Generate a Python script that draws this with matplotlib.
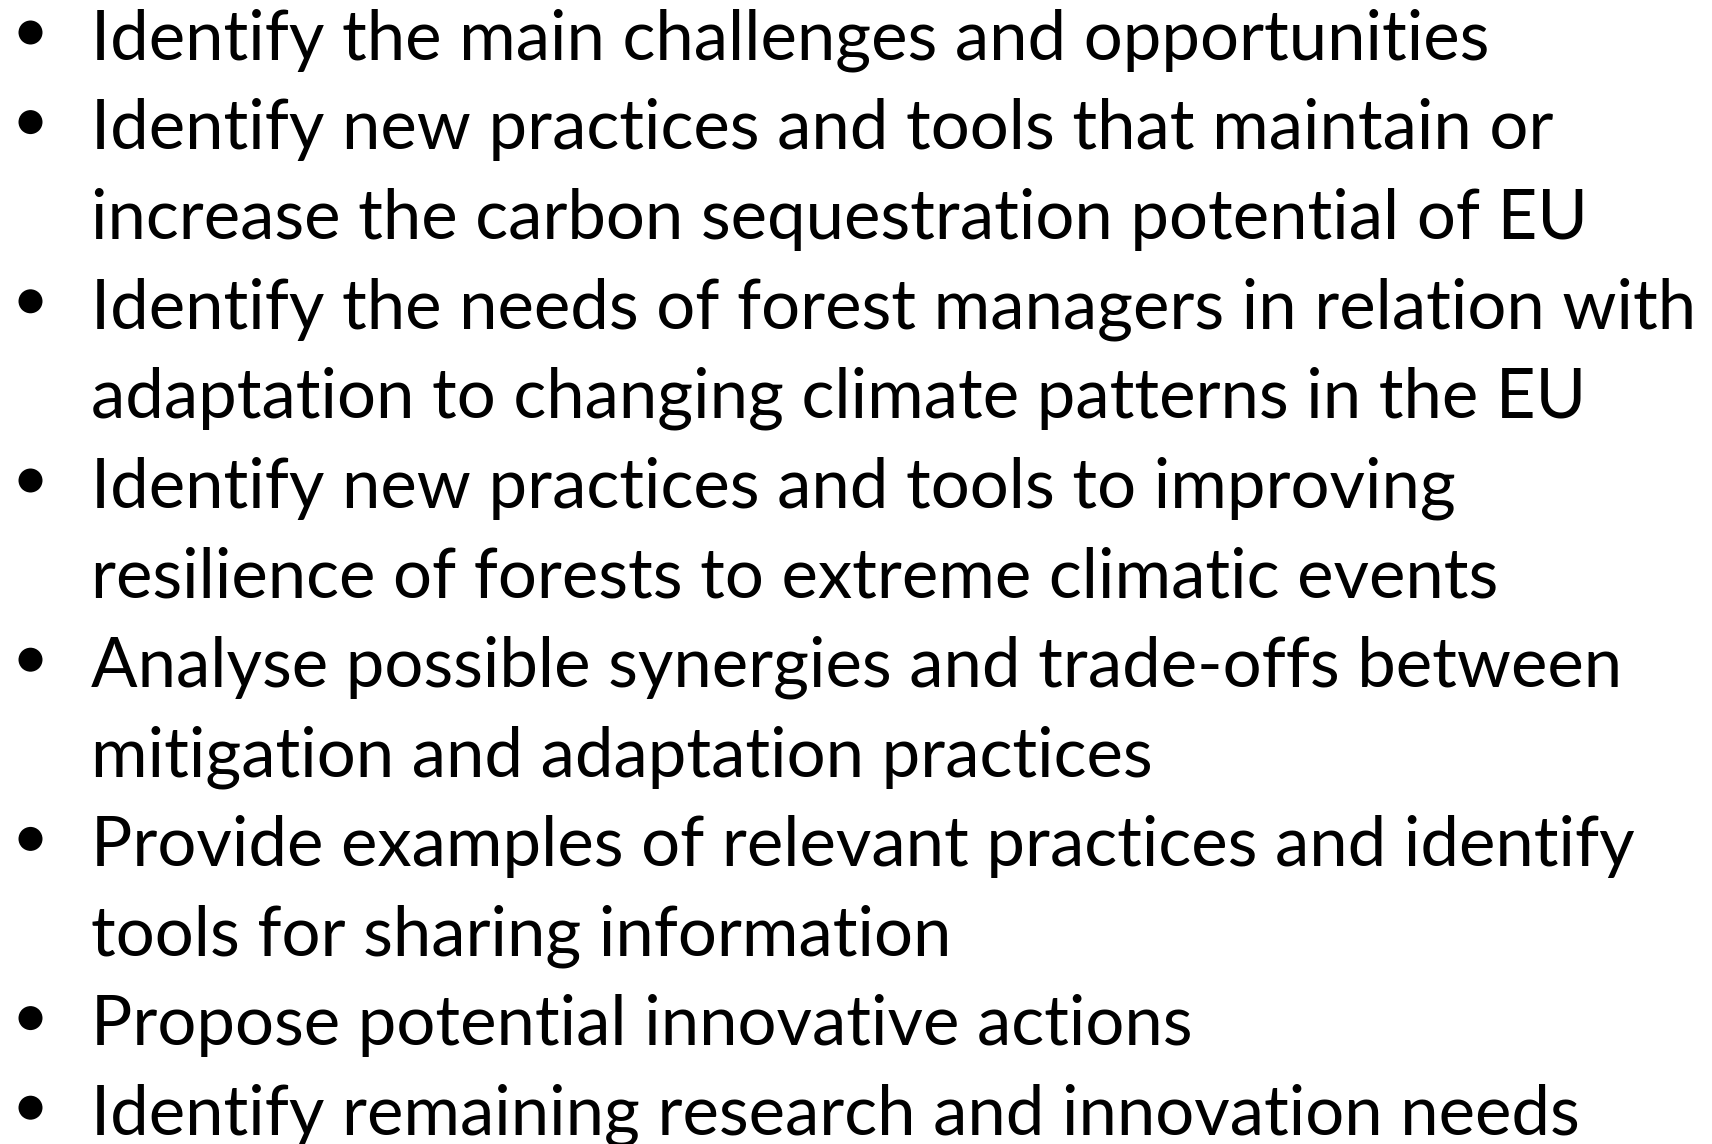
import matplotlib
matplotlib.use("Agg")
import matplotlib.pyplot as plt
from matplotlib.patches import Ellipse

# Bullet items (each sub-list = wrapped lines of one bullet)
items = [
    ["Identify the main challenges and opportunities"],
    ["Identify new practices and tools that maintain or",
     "increase the carbon sequestration potential of EU"],
    ["Identify the needs of forest managers in relation with",
     "adaptation to changing climate patterns in the EU"],
    ["Identify new practices and tools to improving",
     "resilience of forests to extreme climatic events"],
    ["Analyse possible synergies and trade-offs between",
     "mitigation and adaptation practices"],
    ["Provide examples of relevant practices and identify",
     "tools for sharing information"],
    ["Propose potential innovative actions"],
    ["Identify remaining research and innovation needs"],
]

W, H, DPI = 1712, 1144, 100
fig = plt.figure(figsize=(W / DPI, H / DPI), dpi=DPI)
fig.patch.set_facecolor("white")

FONT = ["Lato", "DejaVu Sans"]
text_left = 91          # px
first_baseline = 59.5   # px from top
line_step = 89.6        # px
target_width = 1605     # px width of the widest line
bullet_d = 24           # px diameter
bullet_x = 30.5         # px
bullet_up = 27          # px above baseline

# calibrate font size on the widest line
renderer = fig.canvas.get_renderer()
probe = fig.text(0, 0, items[2][0], fontsize=50, family=FONT)
w = probe.get_window_extent(renderer).width
probe.remove()
fs = 50 * target_width / w

line = 0
for item in items:
    for k, txt in enumerate(item):
        yb = first_baseline + line * line_step
        fig.text(text_left / W, 1 - yb / H, txt, fontsize=fs, family=FONT,
                 color="black", ha="left", va="baseline")
        if k == 0:
            cy = yb - bullet_up
            fig.add_artist(Ellipse((bullet_x / W, 1 - cy / H),
                                   width=bullet_d / W, height=bullet_d / H,
                                   transform=fig.transFigure,
                                   facecolor="black", edgecolor="none"))
        line += 1

fig.savefig("out.png", dpi=DPI, facecolor="white")
